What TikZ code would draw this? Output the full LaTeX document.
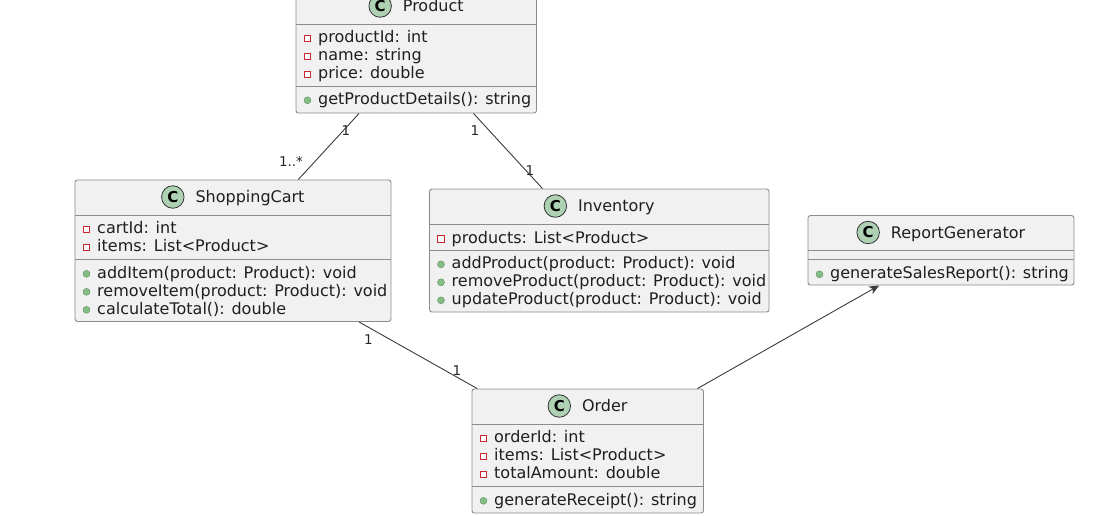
\documentclass[tikz,border=0pt]{standalone}
\usepackage{fontspec}
\setmainfont{DejaVu Sans}
\usetikzlibrary{arrows.meta,calc}

\definecolor{boxfill}{HTML}{F1F1F1}
\definecolor{boxline}{HTML}{8C8C8C}
\definecolor{badgefill}{HTML}{ADD1B2}
\definecolor{privred}{HTML}{C82930}
\definecolor{pubgreen}{HTML}{84BE84}
\definecolor{linkline}{HTML}{3C3C3C}

\tikzset{
  classbox/.style={rectangle, draw=boxline, fill=boxfill, line width=0.9pt,
    rounded corners=2.5pt, inner sep=0pt},
  sepline/.style={draw=boxline, line width=0.9pt},
  titletext/.style={inner sep=0pt, font=\fontsize{16}{18}\selectfont, text=black!88},
  badge/.style={circle, draw=black!80, line width=0.8pt, fill=badgefill,
    minimum size=22.5pt, inner sep=0pt, font=\fontsize{15}{15}\selectfont\bfseries},
  member/.style={anchor=base west, inner sep=0pt,
    font=\fontsize{16}{18}\selectfont, text=black!88},
  privmark/.style={rectangle, draw=privred, line width=0.9pt, fill=white,
    minimum size=6.3pt, inner sep=0pt},
  pubmark/.style={circle, draw=pubgreen!75!black, line width=0.4pt, fill=pubgreen,
    minimum size=7pt, inner sep=0pt},
  mult/.style={inner sep=0pt, font=\fontsize{13.5}{14}\selectfont, text=black!85},
  assoc/.style={draw=linkline, line width=0.9pt},
}

% class header: name, centre x, top y, title
\newcommand\classtitle[4]{%
  \node[titletext, anchor=base] (#1) at (#2+17, #3+22.8) {#4};
  \node[badge] (#1c) at ($(#1.base west)+(-22.5,-5.8)$) {C};}
% private member row: name, box left x, row centre y, text
\newcommand\privrow[4]{%
  \node[privmark] (#1m) at (#2+11.5, #3+1.3) {};
  \node[member] (#1) at (#2+22, #3+5.8) {#4};}
% public member row: name, box left x, row centre y, text
\newcommand\pubrow[4]{%
  \node[pubmark] (#1m) at (#2+11.5, #3+1.3) {};
  \node[member] (#1) at (#2+22, #3+5.8) {#4};}

\begin{document}
\begin{tikzpicture}[x=1pt, y=-1pt]
\useasboundingbox[fill=white] (0,0) rectangle (1095,515);

% ---------- Product ----------
\node[classbox, minimum width=240.5pt, minimum height=124pt] (product) at (416.25,51) {};
\draw[sepline] (296,24) -- (536.5,24);
\draw[sepline] (296,86) -- (536.5,86);
\classtitle{producttitle}{416.25}{-11}{Product}
\privrow{pa1}{296}{37}{productId: int}
\privrow{pa2}{296}{55}{name: string}
\privrow{pa3}{296}{73}{price: double}
\pubrow{pm1}{296}{99}{getProductDetails(): string}

% ---------- ShoppingCart ----------
\node[classbox, minimum width=316pt, minimum height=141.5pt] (cart) at (233,250.75) {};
\draw[sepline] (75,215) -- (391,215);
\draw[sepline] (75,259) -- (391,259);
\classtitle{carttitle}{233}{180}{ShoppingCart}
\privrow{ca1}{75}{228}{cartId: int}
\privrow{ca2}{75}{246}{items: List<Product>}
\pubrow{cm1}{75}{272.5}{addItem(product: Product): void}
\pubrow{cm2}{75}{290.5}{removeItem(product: Product): void}
\pubrow{cm3}{75}{308.5}{calculateTotal(): double}

% ---------- Inventory ----------
\node[classbox, minimum width=339.5pt, minimum height=123pt] (inventory) at (599.25,250.5) {};
\draw[sepline] (429.5,224) -- (769,224);
\draw[sepline] (429.5,250) -- (769,250);
\classtitle{invtitle}{599.25}{189}{Inventory}
\privrow{ia1}{429.5}{237.5}{products: List<Product>}
\pubrow{im1}{429.5}{263}{addProduct(product: Product): void}
\pubrow{im2}{429.5}{281}{removeProduct(product: Product): void}
\pubrow{im3}{429.5}{299}{updateProduct(product: Product): void}

% ---------- ReportGenerator ----------
\node[classbox, minimum width=266pt, minimum height=69.5pt] (report) at (941,250.25) {};
\draw[sepline] (808,250.5) -- (1074,250.5);
\draw[sepline] (808,259.5) -- (1074,259.5);
\classtitle{reptitle}{941}{215.5}{ReportGenerator}
\pubrow{rm1}{808}{273}{generateSalesReport(): string}

% ---------- Order ----------
\node[classbox, minimum width=231.5pt, minimum height=124pt] (order) at (587.75,451) {};
\draw[sepline] (472,424) -- (703.5,424);
\draw[sepline] (472,486.5) -- (703.5,486.5);
\classtitle{ordertitle}{587.75}{389}{Order}
\privrow{oa1}{472}{437}{orderId: int}
\privrow{oa2}{472}{455}{items: List<Product>}
\privrow{oa3}{472}{473}{totalAmount: double}
\pubrow{om1}{472}{499.5}{generateReceipt(): string}

% ---------- associations ----------
\draw[assoc] (product) -- (cart);
\draw[assoc] (product) -- (inventory);
\draw[assoc] (cart) -- (order);
\draw[assoc, -{Stealth[length=10pt, width=8.5pt, inset=3pt]}] (order) -- (report);

% ---------- multiplicities ----------
\node[mult] (m1) at (346,130.5) {1};
\node[mult] (m2) at (291,161.5) {1..*};
\node[mult] (m3) at (475,130.5) {1};
\node[mult] (m4) at (530,170.5) {1};
\node[mult] (m5) at (368.5,339.5) {1};
\node[mult] (m6) at (457,370.5) {1};
\end{tikzpicture}
\end{document}
